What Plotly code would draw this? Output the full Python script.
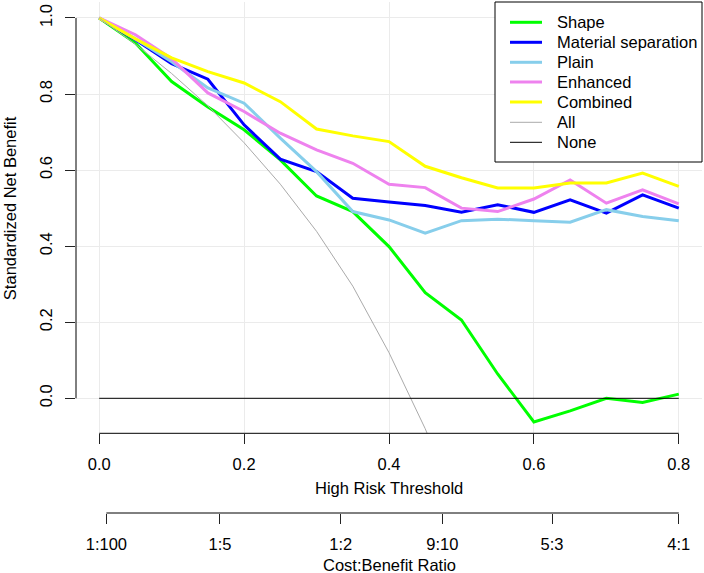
import plotly.graph_objects as go

thresholds = [0.0, 0.05, 0.1, 0.15, 0.2, 0.25, 0.3, 0.35, 0.4, 0.45, 0.5, 0.55, 0.6, 0.65, 0.7, 0.75, 0.8]
shape_nb = [1.0, 0.934, 0.833, 0.766, 0.706, 0.627, 0.532, 0.491, 0.399, 0.278, 0.206, 0.064, -0.062, -0.033, 0.0, -0.011, 0.011]
material_nb = [1.0, 0.943, 0.88, 0.839, 0.719, 0.629, 0.596, 0.526, 0.516, 0.507, 0.489, 0.509, 0.489, 0.522, 0.487, 0.535, 0.5]
plain_nb = [1.0, 0.945, 0.885, 0.816, 0.776, 0.684, 0.596, 0.491, 0.469, 0.434, 0.467, 0.471, 0.467, 0.463, 0.496, 0.478, 0.467]
enhanced_nb = [1.0, 0.956, 0.893, 0.803, 0.754, 0.697, 0.653, 0.618, 0.563, 0.554, 0.5, 0.491, 0.524, 0.574, 0.513, 0.548, 0.511]
combined_nb = [1.0, 0.945, 0.895, 0.859, 0.829, 0.78, 0.708, 0.69, 0.675, 0.61, 0.58, 0.553, 0.553, 0.566, 0.566, 0.592, 0.557]
all_thresholds = [0.0, 0.05, 0.1, 0.15, 0.2, 0.25, 0.3, 0.35, 0.4, 0.45, 0.5]
all_nb = [1.0, 0.931, 0.854, 0.769, 0.672, 0.563, 0.439, 0.295, 0.12, -0.08, -0.31]
none_x = [0.0, 0.8]
none_nb = [0.0, 0.0]

series_names = ["Shape", "Material separation", "Plain", "Enhanced", "Combined", "All", "None"]
series_colors = ["#00FF00", "#0000FF", "#87CEEB", "#EE82EE", "#FFFF00", "#AAAAAA", "#000000"]
series_widths = [3, 3, 3, 3, 3, 1, 1]

x_ticks = [0.0, 0.2, 0.4, 0.6, 0.8]
x_ticktext = ["0.0", "0.2", "0.4", "0.6", "0.8"]
y_ticks = [0.0, 0.2, 0.4, 0.6, 0.8, 1.0]
y_ticktext = ["0.0", "0.2", "0.4", "0.6", "0.8", "1.0"]
cb_ticks = [1 / 101, 1 / 6, 1 / 3, 9 / 19, 5 / 8, 4 / 5]
cb_ticktext = ["1:100", "1:5", "1:2", "9:10", "5:3", "4:1"]

FONT = "Liberation Sans, Arial, sans-serif"
FS = 16.5
XR = [-0.032, 0.832]
YR = [-0.092, 1.042]

xs_list = [thresholds] * 5 + [all_thresholds, none_x]
ys_list = [shape_nb, material_nb, plain_nb, enhanced_nb, combined_nb, all_nb, none_nb]

fig = go.Figure()
for name, col, w, xs, ys in zip(series_names, series_colors, series_widths, xs_list, ys_list):
    fig.add_trace(go.Scatter(x=xs, y=ys, mode="lines", name=name, showlegend=False,
                             line=dict(color=col, width=w)))

# dummy trace on the secondary (cost:benefit) axis
fig.add_trace(go.Scatter(x=[None], y=[None], xaxis="x2", yaxis="y2",
                         showlegend=False, hoverinfo="skip"))

W, H = 704, 573
ml, mr, mt, mb = 76, 2, 2, 60
pw = W - ml - mr
ph = H - mt - mb
main_bottom_px = 433.3
dom_bottom = (H - mb - main_bottom_px) / ph


def px(pix):
    return (pix - ml) / pw


def py(pix):
    return (H - mb - pix) / ph


tick_common = dict(ticks="outside", ticklen=10, tickcolor="#222222", tickwidth=1,
                   ticklabelstandoff=6, tickfont=dict(size=FS), zeroline=False, showline=False)

fig.update_layout(
    width=W, height=H,
    margin=dict(l=ml, r=mr, t=mt, b=mb),
    paper_bgcolor="white", plot_bgcolor="white",
    font=dict(family=FONT, size=FS, color="black"),
    xaxis=dict(range=XR, domain=[0, 1], anchor="y", tickvals=x_ticks, ticktext=x_ticktext,
               showgrid=True, gridcolor="#EBEBEB", gridwidth=1, **tick_common),
    yaxis=dict(range=YR, domain=[dom_bottom, 1], anchor="x", tickvals=y_ticks,
               ticktext=y_ticktext, showgrid=True, gridcolor="#EBEBEB", gridwidth=1,
               tickangle=-90, **tick_common),
    xaxis2=dict(range=XR, domain=[0, 1], anchor="y2", tickvals=cb_ticks,
                ticktext=cb_ticktext, showgrid=False, **tick_common),
    yaxis2=dict(range=[0, 1], domain=[0, 0.002], anchor="x2", visible=False),
    showlegend=False,
)

# R-style axis lines
fig.add_shape(type="line", xref="paper", yref="y", x0=0, x1=0, y0=0, y1=1,
              line=dict(color="black", width=1))
fig.add_shape(type="line", xref="x", yref="y domain", x0=0, x1=0.8, y0=0, y1=0,
              line=dict(color="black", width=1))
fig.add_shape(type="line", xref="x2", yref="paper", x0=1 / 101, x1=0.8, y0=0, y1=0,
              line=dict(color="black", width=1))

# legend box drawn R-style
fig.add_shape(type="rect", xref="paper", yref="paper", x0=px(495), x1=1.0, y0=py(162), y1=py(2),
              line=dict(color="black", width=1), fillcolor="white", layer="above")
row_y = [22.3, 42.3, 62.3, 82, 102, 122.3, 142.3]
for name, col, w, ry in zip(series_names, series_colors, series_widths, row_y):
    fig.add_shape(type="line", xref="paper", yref="paper", x0=px(510), x1=px(542),
                  y0=py(ry), y1=py(ry), line=dict(color=col, width=w), layer="above")
    fig.add_annotation(text=name, x=px(555), xref="paper", y=py(ry), yref="paper",
                       showarrow=False, xanchor="left", yanchor="middle",
                       font=dict(size=FS))

fig.add_annotation(text="High Risk Threshold", x=0.4, xref="x", y=py(488), yref="paper",
                   showarrow=False, xanchor="center", yanchor="middle", font=dict(size=FS))
fig.add_annotation(text="Cost:Benefit Ratio", x=0.4, xref="x", y=py(565), yref="paper",
                   showarrow=False, xanchor="center", yanchor="middle", font=dict(size=FS))
fig.add_annotation(text="Standardized Net Benefit", x=px(10), xref="paper",
                   y=0.5, yref="y", showarrow=False, textangle=-90, xanchor="center",
                   yanchor="middle", font=dict(size=FS))

fig.write_html("out.html")
